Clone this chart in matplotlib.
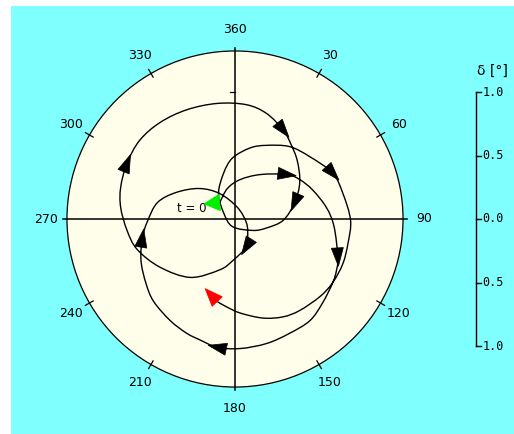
import numpy as np
import matplotlib.pyplot as plt
from matplotlib.patches import Circle, Polygon, Rectangle, PathPatch
from matplotlib.path import Path

# pole track, east / north components of the tilt in degrees, in time order
track_x = [-0.12, -0.06, 0.04, 0.20, 0.41, 0.51, 0.61, 0.72, 0.78, 0.81,
           0.80, 0.77, 0.69, 0.59, 0.43, 0.25, 0.04, -0.14, -0.28, -0.38,
           -0.51, -0.64, -0.70, -0.74, -0.73, -0.69, -0.61, -0.46, -0.28, -0.12,
           0.02, 0.09, 0.10, 0.09, -0.02, -0.12, -0.35, -0.59, -0.77, -0.85,
           -0.90, -0.90, -0.85, -0.75, -0.59, -0.38, -0.14, 0.09, 0.25, 0.38,
           0.44, 0.49, 0.51, 0.47, 0.38, 0.25, 0.14, -0.02, -0.09, -0.13,
           -0.09, -0.02, 0.12, 0.25, 0.43, 0.59, 0.77, 0.85, 0.91, 0.89,
           0.85, 0.77, 0.67, 0.51, 0.38, 0.22, 0.04, -0.07, -0.14]
track_y = [0.13, 0.24, 0.31, 0.35, 0.35, 0.31, 0.23, 0.09, -0.06, -0.30,
           -0.40, -0.50, -0.66, -0.80, -0.90, -0.98, -1.02, -1.01, -0.95, -0.90,
           -0.80, -0.65, -0.51, -0.33, -0.15, -0.02, 0.13, 0.21, 0.24, 0.20,
           0.09, -0.03, -0.14, -0.22, -0.33, -0.40, -0.46, -0.38, -0.24, -0.09,
           0.09, 0.25, 0.44, 0.62, 0.76, 0.86, 0.91, 0.90, 0.83, 0.70,
           0.59, 0.46, 0.29, 0.13, -0.01, -0.07, -0.09, -0.06, 0.05, 0.20,
           0.36, 0.48, 0.56, 0.58, 0.57, 0.49, 0.36, 0.20, -0.01, -0.19,
           -0.35, -0.50, -0.61, -0.72, -0.77, -0.78, -0.74, -0.69, -0.65]

# where the direction arrows sit along the track
arrow_idx = [4, 9, 17, 24, 33, 42, 49, 53, 66]

azimuth_labels = [360, 30, 60, 90, 120, 150, 180, 210, 240, 270, 300, 330]
scale_values = [1.0, 0.5, 0.0, -0.5, -1.0]
scale_text = ['1.0', '0.5', '0.0', '0.5', '1.0']

R_EDGE = 1.323
R_LABEL = 1.49
BAR_X = 1.898

fig = plt.figure(figsize=(5.14, 4.34), dpi=100, facecolor='white')
fig.patches.append(Rectangle((11 / 514, 0), 1, 428 / 434, transform=fig.transFigure,
                             facecolor='#80ffff', edgecolor='none', zorder=-10))

ax = fig.add_axes([0, 0, 1, 1])
ax.set_zorder(1)
ax.set_xlim(-235 / 127, 279 / 127)
ax.set_ylim(-215 / 127, 219 / 127)
ax.axis('off')

ax.add_patch(Circle((0, 0), R_EDGE, facecolor='#fffeea', edgecolor='black', lw=0.9, zorder=1))

# cross hairs
ax.plot([-1.355, 1.355], [0, 0], color='black', lw=1.1, zorder=2)
ax.plot([0, 0], [-1.35, 1.35], color='black', lw=1.1, zorder=2)
ax.plot([-0.04, 0], [1.0, 1.0], color='black', lw=0.9, zorder=2)

# azimuth ticks and labels
for az in azimuth_labels:
    t = np.radians(az)
    s, c = np.sin(t), np.cos(t)
    if az % 90:
        ax.plot([1.29 * s, 1.36 * s], [1.29 * c, 1.36 * c], color='black', lw=0.9, zorder=2)
    ax.text(R_LABEL * s, R_LABEL * c, str(az), ha='center', va='center',
            fontsize=9, color='black')

# track, drawn as a smooth curve through the points (Catmull-Rom as Bezier)
tx = np.array(track_x)
ty = np.array(track_y)
pts = np.column_stack([tx, ty])
padded = np.vstack([pts[0], pts, pts[-1]])
verts = [pts[0]]
codes = [Path.MOVETO]
for k in range(len(pts) - 1):
    p0, p1, p2, p3 = padded[k], padded[k + 1], padded[k + 2], padded[k + 3]
    verts += [p1 + (p2 - p0) / 6, p2 - (p3 - p1) / 6, p2]
    codes += [Path.CURVE4] * 3
ax.add_patch(PathPatch(Path(verts, codes), facecolor='none', edgecolor='black',
                       lw=1.0, zorder=3))


def arrow_head(x0, y0, ang, length, width, color, anchor='center'):
    d = np.array([np.cos(ang), np.sin(ang)])
    p = np.array([-d[1], d[0]])
    if anchor == 'center':
        base = np.array([x0, y0]) - d * length / 2
    else:
        base = np.array([x0, y0])
    tip = base + d * length
    tri = [tip, base + p * width / 2, base - p * width / 2]
    ax.add_patch(Polygon(tri, closed=True, facecolor=color, edgecolor=color,
                         lw=0.5, zorder=4))


for i in arrow_idx:
    ang = np.arctan2(ty[i + 1] - ty[i - 1], tx[i + 1] - tx[i - 1])
    arrow_head(tx[i], ty[i], ang, 0.145, 0.095, 'black')

# start (green) and end (red) markers
arrow_head(tx[0], ty[0], np.radians(185), 0.125, 0.13, '#00ee00', anchor='base')
arrow_head(tx[-1], ty[-1], np.radians(133), 0.14, 0.11, '#ff0000', anchor='base')
ax.text(-0.34, 0.08, 't = 0', fontsize=8.5, ha='center', va='center')

# delta scale bar
ax.plot([BAR_X, BAR_X], [-1.0, 1.0], color='black', lw=1.0)
for v, lab in zip(scale_values, scale_text):
    ax.plot([BAR_X, BAR_X + 0.04], [v, v], color='black', lw=1.0)
    ax.text(BAR_X + 0.05, v, lab, fontsize=8.5, family='DejaVu Sans Mono',
            ha='left', va='center')
ax.text(BAR_X + 0.13, 1.17, 'δ [°]', fontsize=10, ha='center', va='center')

fig.savefig('out.png', dpi=100)
